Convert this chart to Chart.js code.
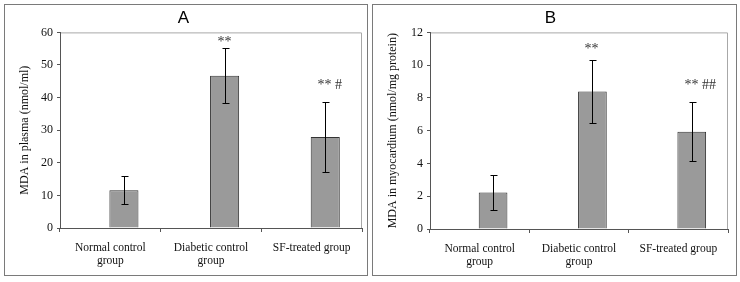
<!DOCTYPE html>
<html>
<head>
<meta charset="utf-8">
<script src="https://cdn.jsdelivr.net/npm/chart.js@4.4.1/dist/chart.umd.min.js"></script>
<style>
	body { margin: 0; background: #fff; width: 740px; height: 282px; position: relative; overflow: hidden; }
	.panel { position: absolute; top: 4px; height: 270px; border: 1px solid #7a7a7a; background: #fff; }
	#panel_a { left: 4px; width: 362px; }
	#panel_b { left: 372px; width: 363px; }
	canvas { display: block; }
</style>
</head>
<body>
<div class="panel" id="panel_a"><canvas id="chart_a" width="362" height="270"></canvas></div>
<div class="panel" id="panel_b"><canvas id="chart_b" width="363" height="270"></canvas></div>
<script>
var categories = [['Normal control', 'group'], ['Diabetic control', 'group'], 'SF-treated group'];

// panel A: MDA in plasma
var plasma_mean = [11.6, 46.7, 27.9];
var plasma_sd = [4.3, 8.4, 10.7];
var plasma_marks = ['', '**', '** #'];
var plasma_ticks_max = 60;
var plasma_ticks_step = 10;

// panel B: MDA in myocardium
var myo_mean = [2.23, 8.4, 5.93];
var myo_sd = [1.08, 1.93, 1.8];
var myo_marks = ['', '**', '** ##'];
var myo_ticks_max = 12;
var myo_ticks_step = 2;

var serif = "'Liberation Serif', 'DejaVu Serif', serif";

//draws frame, error bars and significance marks
var panel_extras = {
	id: 'panel_extras',
	beforeDraw: function(chart)
	{
		var a = chart.chartArea;
		var ctx = chart.ctx;
		ctx.save();
		ctx.strokeStyle = '#a8a8a8';
		ctx.lineWidth = 1;
		ctx.beginPath();
		ctx.moveTo(a.left, a.top + 0.5);
		ctx.lineTo(a.right - 0.5, a.top + 0.5);
		ctx.lineTo(a.right - 0.5, a.bottom);
		ctx.stroke();
		ctx.restore();
	},
	afterDatasetsDraw: function(chart, args, opts)
	{
		var ctx = chart.ctx;
		var y = chart.scales.y;
		var meta = chart.getDatasetMeta(1);
		ctx.save();
		ctx.strokeStyle = '#000';
		ctx.lineWidth = 1;
		meta.data.forEach(function(bar, i)
		{
			var m = opts.mean[i], s = opts.sd[i];
			var x = Math.round(bar.x) + 0.5;
			var top = Math.round(y.getPixelForValue(m + s)) + 0.5;
			var bot = Math.round(y.getPixelForValue(m - s)) + 0.5;
			ctx.beginPath();
			ctx.moveTo(x, top); ctx.lineTo(x, bot);
			ctx.moveTo(x - 3, top); ctx.lineTo(x + 4, top);
			ctx.moveTo(x - 3, bot); ctx.lineTo(x + 4, bot);
			ctx.stroke();
			if(opts.marks[i])
			{
				ctx.fillStyle = '#333';
				ctx.font = '14px ' + serif;
				ctx.textAlign = 'left';
				ctx.textBaseline = 'middle';
				ctx.fillText(opts.marks[i], x - 8, top - opts.gap[i]);
			}
		});
		ctx.restore();
	}
};

function make_panel(canvas_id, letter, y_title, mean, sd, marks, gaps, y_max, y_step, y_width, x_height, pad_right)
{
	var ctx = document.getElementById(canvas_id).getContext('2d');
	return new Chart(ctx, {
		type: 'bar',
		data: {
			labels: categories,
			datasets: [
				{ label: 'empty', data: [null, null, null] },
				{ label: 'MDA', data: mean, backgroundColor: '#9a9a9a', borderColor: '#333', borderWidth: 1 }
			]
		},
		options: {
			responsive: false,
			animation: false,
			devicePixelRatio: 1,
			categoryPercentage: 0.54,
			barPercentage: 1.07,
			layout: { padding: { left: 0, right: pad_right, top: 0, bottom: 0 } },
			plugins: {
				legend: { display: false },
				tooltip: { enabled: false },
				title: {
					display: true, text: letter, color: '#000',
					font: { family: "'Liberation Sans', Arial, sans-serif", size: 17, weight: 'normal', lineHeight: 1.2 },
					padding: { top: 3, bottom: 4 }
				},
				panel_extras: { mean: mean, sd: sd, marks: marks, gap: gaps }
			},
			scales: {
				x: {
					grid: { offset: true, drawOnChartArea: false, tickLength: 4, color: '#555' },
					border: { color: '#555' },
					ticks: { color: '#111', padding: 9, maxRotation: 0, font: { family: serif, size: 11.5, lineHeight: 1.15 } },
					afterFit: function(scale) { scale.height = x_height; }
				},
				y: {
					min: 0, max: y_max,
					grid: { drawOnChartArea: false, tickLength: 3, color: '#555' },
					border: { color: '#555' },
					ticks: { stepSize: y_step, color: '#111', padding: 4, font: { family: serif, size: 12 } },
					title: { display: true, text: y_title, color: '#111', font: { family: serif, size: 12 }, padding: { top: 13, bottom: 0 } },
					afterFit: function(scale) { scale.width = y_width; }
				}
			}
		},
		plugins: [panel_extras]
	});
}

make_panel('chart_a', 'A', 'MDA in plasma (nmol/ml)', plasma_mean, plasma_sd, plasma_marks, [0, 6, 17], plasma_ticks_max, plasma_ticks_step, 55, 47, 5);
make_panel('chart_b', 'B', 'MDA in myocardium (nmol/mg protein)', myo_mean, myo_sd, myo_marks, [0, 11, 17], myo_ticks_max, myo_ticks_step, 57, 46, 8);
</script>
</body>
</html>
